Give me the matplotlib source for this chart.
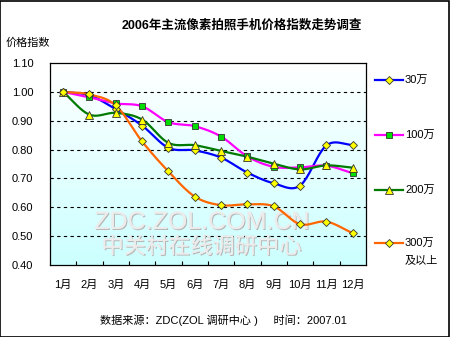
import numpy as np
import matplotlib
matplotlib.use("Agg")
import matplotlib.pyplot as plt
import matplotlib.patheffects as pe
from matplotlib.lines import Line2D
from matplotlib.patches import Rectangle

plt.rcParams['font.family'] = ['Liberation Sans', 'Noto Sans CJK SC', 'DejaVu Sans']

months = ['1月', '2月', '3月', '4月', '5月', '6月', '7月', '8月', '9月', '10月', '11月', '12月']
s30 = [1.00, 0.988, 0.94, 0.883, 0.806, 0.797, 0.772, 0.72, 0.683, 0.675, 0.814, 0.816]
s100 = [1.00, 0.981, 0.96, 0.95, 0.895, 0.881, 0.845, 0.776, 0.74, 0.738, 0.744, 0.718]
s200 = [1.00, 0.921, 0.927, 0.904, 0.823, 0.815, 0.795, 0.775, 0.751, 0.731, 0.745, 0.737]
s300 = [1.00, 0.991, 0.953, 0.828, 0.724, 0.637, 0.607, 0.61, 0.603, 0.541, 0.55, 0.51]
labels = ['30万', '100万', '200万', '300万']
colors = ['#0000ff', '#ff00ff', '#007a00', '#ff6600']
markers = ['D', 's', '^', 'D']
mfaces = ['#ffff00', '#00dd00', '#ffff00', '#ffff00']
msizes = [4.3, 5, 6, 4.3]


def smooth(y, n=20):
    # catmull-rom style curve through the points (like Excel smoothed lines)
    y = np.asarray(y, float)
    p = np.concatenate([[2 * y[0] - y[1]], y, [2 * y[-1] - y[-2]]])
    xs, ys = [], []
    for i in range(len(y) - 1):
        t = np.linspace(0, 1, n, endpoint=False)
        p0, p1, p2, p3 = p[i], p[i + 1], p[i + 2], p[i + 3]
        v = 0.5 * ((2 * p1) + (-p0 + p2) * t + (2 * p0 - 5 * p1 + 4 * p2 - p3) * t ** 2
                   + (-p0 + 3 * p1 - 3 * p2 + p3) * t ** 3)
        xs.append(i + t)
        ys.append(v)
    xs.append([len(y) - 1])
    ys.append([y[-1]])
    return np.concatenate(xs), np.concatenate(ys)


fig = plt.figure(figsize=(4.5, 3.37), dpi=100)
ax = fig.add_axes([0.111, 0.214, 0.702, 0.599])

# gradient background
grad = np.linspace(0, 1, 256).reshape(-1, 1)
cmap = matplotlib.colors.LinearSegmentedColormap.from_list('bg', ['#ccffff', '#ffffff'])
ax.imshow(grad, aspect='auto', cmap=cmap, extent=[0, 1, 0, 1], transform=ax.transAxes,
          origin='lower', zorder=0)

x = np.arange(len(months))
for yv in [0.5, 0.6, 0.7, 0.8, 0.9, 1.0]:
    ax.axhline(yv, color='black', lw=0.8, ls=(0, (3, 3)), zorder=1)

# watermark
emboss = [pe.withSimplePatchShadow(offset=(0.8, -0.8), shadow_rgbFace='#b8b8b8', alpha=1.0),
          pe.Normal()]
ax.text(0.48, 0.213, 'ZDC.ZOL.COM.CN', transform=ax.transAxes, ha='center', va='center',
        fontsize=18, color='#ececec', zorder=1.5, path_effects=emboss)
ax.text(0.48, 0.085, '中关村在线调研中心', transform=ax.transAxes, ha='center', va='center',
        fontsize=16, color='#ececec', zorder=1.5, path_effects=emboss)

for s, c, m, mf, ms in zip([s30, s100, s200, s300], colors, markers, mfaces, msizes):
    xs, ys = smooth(s)
    ax.plot(xs, ys, color=c, lw=1.6, zorder=3)
    ax.plot(x, s, ls='none', marker=m, markersize=ms, markerfacecolor=mf,
            markeredgecolor='#333333', markeredgewidth=0.6, zorder=4)

ax.set_xlim(-0.5, 11.5)
ax.set_ylim(0.40, 1.10)
ax.set_yticks(np.arange(0.4, 1.101, 0.1))
ax.set_yticklabels(['%.2f' % v for v in np.arange(0.4, 1.101, 0.1)], fontsize=8)
ax.set_xticks(x)
ax.set_xticklabels(months, fontsize=8)
ax.set_xticks(np.arange(0.5, 11, 1), minor=True)
ax.tick_params(axis='x', which='major', length=0, pad=11)
ax.tick_params(axis='x', which='minor', length=3, direction='in', width=0.8)
ax.tick_params(axis='y', length=0, pad=12)
for sp in ax.spines.values():
    sp.set_linewidth(0.9)
    sp.set_zorder(5)

fig.text(0.538, 0.925, '2006年主流像素拍照手机价格指数走势调查', ha='center', va='center',
         fontsize=9, fontweight='bold')
fig.text(0.012, 0.873, '价格指数', ha='left', va='center', fontsize=8)
fig.text(0.222, 0.05, '数据来源：ZDC(ZOL 调研中心 )     时间：2007.01', ha='left',
         va='center', fontsize=8)

# legend drawn on the right side
leg_y = [0.762, 0.599, 0.436, 0.279]
for yy, lab, c, m, mf, ms in zip(leg_y, labels, colors, markers, mfaces, msizes):
    fig.add_artist(Line2D([0.833, 0.895], [yy, yy], color=c, lw=1.6, transform=fig.transFigure))
    fig.add_artist(Line2D([0.864], [yy], marker=m, markersize=ms, markerfacecolor=mf,
                          markeredgecolor='#333333', markeredgewidth=0.6, transform=fig.transFigure))
    fig.text(0.9, yy, lab, ha='left', va='center', fontsize=8)
fig.text(0.9, 0.229, '及以上', ha='left', va='center', fontsize=8)

fig.add_artist(Rectangle((0.001, 0.001), 0.997, 0.996, fill=False, edgecolor='black', lw=1.2,
                         transform=fig.transFigure))

fig.savefig('out.png', dpi=100)
